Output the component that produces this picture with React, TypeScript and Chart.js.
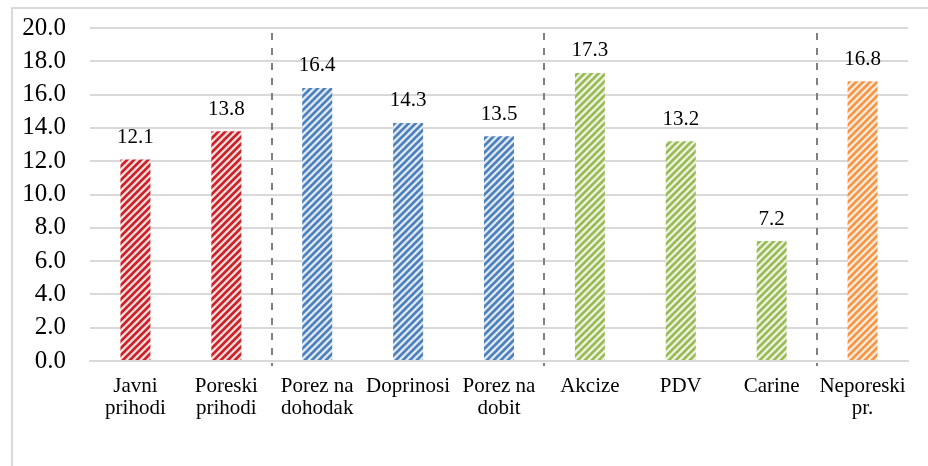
import React, { useEffect, useRef } from "react";
import { Chart, registerables } from "chart.js";

Chart.register(...registerables);

// Revenue categories (two-line labels where the text wraps)
const categories: string[][] = [
  ["Javni", "prihodi"],
  ["Poreski", "prihodi"],
  ["Porez na", "dohodak"],
  ["Doprinosi"],
  ["Porez na", "dobit"],
  ["Akcize"],
  ["PDV"],
  ["Carine"],
  ["Neporeski", "pr."],
];

const values: number[] = [12.1, 13.8, 16.4, 14.3, 13.5, 17.3, 13.2, 7.2, 16.8];

// Group of each bar: 0 = totals, 1 = direct taxes, 2 = indirect taxes, 3 = non-tax
const barGroups: number[] = [0, 0, 1, 1, 1, 2, 2, 2, 3];

// Dashed separators are drawn before these category indexes
const groupBreaks: number[] = [2, 5, 8];

const yTicks: number[] = [0, 2, 4, 6, 8, 10, 12, 14, 16, 18, 20];

// Stripe colours per group: [stripe, background]
const groupColors: [string, string][] = [
  ["#cc2229", "#fbe3e3"],
  ["#4f81bd", "#e3ecf7"],
  ["#9bbb59", "#eff5e3"],
  ["#f79646", "#fdeee2"],
];

const FONT = "'Liberation Serif', 'DejaVu Serif', serif";

function stripePattern(dark: string, light: string): CanvasPattern | string {
  const n = 7;
  const tile = document.createElement("canvas");
  tile.width = n;
  tile.height = n;
  const g = tile.getContext("2d");
  if (!g) return dark;
  g.fillStyle = light;
  g.fillRect(0, 0, n, n);
  g.strokeStyle = dark;
  g.lineWidth = 2.7;
  g.beginPath();
  for (const k of [-n, 0, n]) {
    g.moveTo(k - 1, n + 1);
    g.lineTo(k + n + 1, -1);
  }
  g.stroke();
  const p = g.createPattern(tile, "repeat");
  return p || dark;
}

const outerFrame = {
  id: "outerFrame",
  beforeDraw(chart: any) {
    const { ctx } = chart;
    ctx.save();
    ctx.fillStyle = "#ffffff";
    ctx.fillRect(0, 0, chart.width, chart.height);
    ctx.strokeStyle = "#d9d9d9";
    ctx.lineWidth = 2;
    ctx.strokeRect(12, 8, chart.width + 10, chart.height + 10);
    ctx.restore();
  },
};

const groupSeparators = {
  id: "groupSeparators",
  beforeDatasetsDraw(chart: any) {
    const { ctx, chartArea } = chart;
    const xs = chart.scales.x;
    ctx.save();
    ctx.strokeStyle = "#808080";
    ctx.lineWidth = 2;
    ctx.setLineDash([7, 8]);
    for (const b of groupBreaks) {
      const x = Math.round((xs.getPixelForValue(b - 1) + xs.getPixelForValue(b)) / 2);
      ctx.beginPath();
      ctx.moveTo(x, chartArea.top + 5);
      ctx.lineTo(x, chartArea.bottom + 5);
      ctx.stroke();
    }
    ctx.restore();
  },
};

const valueLabels = {
  id: "valueLabels",
  afterDatasetsDraw(chart: any) {
    const { ctx } = chart;
    const meta = chart.getDatasetMeta(0);
    ctx.save();
    ctx.fillStyle = "#000000";
    ctx.font = `21px ${FONT}`;
    ctx.textAlign = "center";
    ctx.textBaseline = "alphabetic";
    meta.data.forEach((bar: any, i: number) => {
      ctx.fillText(values[i].toFixed(1), bar.x, bar.y - 16.5);
    });
    ctx.restore();
  },
};

export default function App() {
  const canvasRef = useRef<HTMLCanvasElement | null>(null);

  useEffect(() => {
    const canvas = canvasRef.current;
    if (!canvas) return;
    const fills = barGroups.map((g) => stripePattern(groupColors[g][0], groupColors[g][1]));
    const chart = new Chart(canvas, {
      type: "bar",
      data: {
        labels: categories,
        datasets: [
          {
            data: values,
            backgroundColor: fills as any,
            borderWidth: 0,
            barPercentage: 0.33,
            categoryPercentage: 1,
          },
        ],
      },
      options: {
        responsive: false,
        animation: false,
        devicePixelRatio: 1,
        layout: { padding: { left: 0, right: 20, top: 28, bottom: 0 } },
        plugins: {
          legend: { display: false },
          tooltip: { enabled: false },
          title: { display: false },
        },
        scales: {
          x: {
            grid: { display: false, drawTicks: false },
            border: { display: true, color: "#d9d9d9", width: 2 },
            ticks: {
              color: "#000000",
              padding: 14,
              maxRotation: 0,
              autoSkip: false,
              font: { family: FONT, size: 21, lineHeight: 1.05 },
            },
            afterFit(scale: any) {
              scale.height = 105;
              scale.paddingLeft = 0;
              scale.paddingRight = 0;
            },
          },
          y: {
            min: 0,
            max: 20,
            afterBuildTicks(scale: any) {
              scale.ticks = yTicks.map((v) => ({ value: v }));
            },
            grid: { color: "#d9d9d9", lineWidth: 2, drawTicks: false },
            border: { display: false },
            ticks: {
              color: "#000000",
              padding: 24,
              autoSkip: false,
              font: { family: FONT, size: 25 },
              callback: (v: any) => Number(v).toFixed(1),
            },
            afterFit(scale: any) {
              scale.width = 90;
              scale.paddingTop = 0;
              scale.paddingBottom = 0;
            },
          },
        },
      },
      plugins: [outerFrame, groupSeparators, valueLabels],
    });
    return () => chart.destroy();
  }, []);

  return (
    <div style={{ position: "fixed", left: 0, top: 0, width: 928, height: 466, background: "#fff" }}>
      <canvas ref={canvasRef} width={928} height={466} style={{ display: "block" }} />
    </div>
  );
}
